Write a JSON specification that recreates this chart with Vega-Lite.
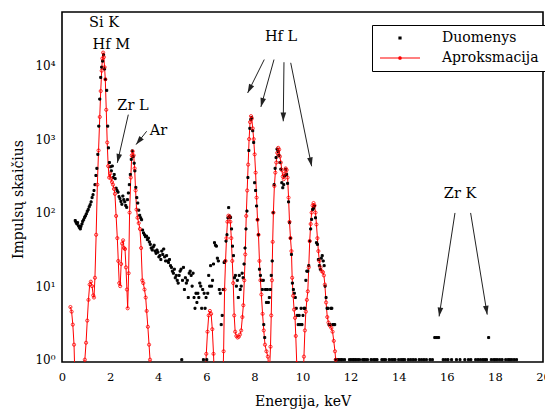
{
"$schema":"https://vega.github.io/schema/vega-lite/v6.json",
"width":481,"height":350,
"autosize":{"type":"none"},
"padding":{"left":62,"top":12,"right":2,"bottom":52},
"background":"white",
"config":{
 "view":{"stroke":"black","strokeWidth":1.6},
 "font":"DejaVu Serif",
 "axis":{"labelFont":"DejaVu Serif","titleFont":"DejaVu Serif","labelColor":"black","titleColor":"black","tickColor":"black","tickWidth":1,"domain":false,"grid":false,"titleFontWeight":"normal","labelOverlap":false,"labelFlush":false,"tickSize":0},
 "legend":{"labelFont":"DejaVu Serif"}
},
"datasets":{
"meas":[
{"e":0.55,"n":78},{"e":0.58,"n":74},{"e":0.62,"n":70},{"e":0.65,"n":73},{"e":0.69,"n":66},{"e":0.72,"n":63},{"e":0.76,"n":60},{"e":0.79,"n":65},{"e":0.83,"n":70},{"e":0.86,"n":76},{"e":0.90,"n":80},{"e":0.94,"n":86},{"e":0.97,"n":90},{"e":1.01,"n":96},{"e":1.05,"n":104},{"e":1.09,"n":110},{"e":1.13,"n":120},{"e":1.17,"n":128},{"e":1.21,"n":140},{"e":1.25,"n":160},{"e":1.29,"n":175},{"e":1.33,"n":200},{"e":1.37,"n":240},{"e":1.41,"n":320},{"e":1.45,"n":400},{"e":1.49,"n":620},{"e":1.53,"n":1500},{"e":1.57,"n":3500},{"e":1.61,"n":6900},{"e":1.65,"n":9500},{"e":1.69,"n":11500},{"e":1.73,"n":14000},{"e":1.77,"n":9000},{"e":1.81,"n":6500},{"e":1.86,"n":4600},{"e":1.90,"n":1500},{"e":1.93,"n":760},{"e":1.97,"n":480},{"e":2.01,"n":420},{"e":2.05,"n":370},{"e":2.09,"n":430},{"e":2.13,"n":300},{"e":2.17,"n":330},{"e":2.21,"n":290},{"e":2.25,"n":215},{"e":2.29,"n":200},{"e":2.33,"n":190},{"e":2.37,"n":165},{"e":2.41,"n":155},{"e":2.45,"n":142},{"e":2.49,"n":130},{"e":2.53,"n":168},{"e":2.57,"n":150},{"e":2.61,"n":140},{"e":2.65,"n":125},{"e":2.69,"n":118},{"e":2.72,"n":150},{"e":2.76,"n":185},{"e":2.80,"n":240},{"e":2.84,"n":330},{"e":2.88,"n":530},{"e":2.92,"n":690},{"e":2.96,"n":580},{"e":3.00,"n":470},{"e":3.03,"n":370},{"e":3.07,"n":220},{"e":3.11,"n":160},{"e":3.15,"n":135},{"e":3.19,"n":108},{"e":3.23,"n":92},{"e":3.27,"n":85},{"e":3.31,"n":80},{"e":3.35,"n":58},{"e":3.39,"n":53},{"e":3.43,"n":50},{"e":3.47,"n":47},{"e":3.51,"n":48},{"e":3.55,"n":43},{"e":3.59,"n":45},{"e":3.63,"n":40},{"e":3.67,"n":37},{"e":3.71,"n":33},{"e":3.75,"n":31},{"e":3.79,"n":34},{"e":3.83,"n":36},{"e":3.87,"n":30},{"e":3.91,"n":28},{"e":3.95,"n":31},{"e":3.99,"n":29},{"e":4.03,"n":25},{"e":4.07,"n":26},{"e":4.11,"n":23},{"e":4.15,"n":30},{"e":4.19,"n":27},{"e":4.23,"n":32},{"e":4.27,"n":25},{"e":4.31,"n":22},{"e":4.35,"n":26},{"e":4.39,"n":22},{"e":4.43,"n":21},{"e":4.47,"n":23},{"e":4.51,"n":19},{"e":4.55,"n":18},{"e":4.59,"n":16},{"e":4.63,"n":15},{"e":4.67,"n":17},{"e":4.71,"n":13},{"e":4.75,"n":14},{"e":4.79,"n":12},{"e":4.83,"n":11},{"e":4.87,"n":14},{"e":4.91,"n":16},{"e":4.95,"n":17},{"e":4.98,"n":1},{"e":5.01,"n":12},{"e":5.05,"n":18},{"e":5.09,"n":9},{"e":5.13,"n":13},{"e":5.17,"n":11},{"e":5.21,"n":12},{"e":5.25,"n":7},{"e":5.29,"n":15},{"e":5.33,"n":16},{"e":5.37,"n":14},{"e":5.41,"n":10},{"e":5.45,"n":15},{"e":5.49,"n":7},{"e":5.53,"n":5},{"e":5.57,"n":8},{"e":5.61,"n":6},{"e":5.65,"n":8},{"e":5.69,"n":7},{"e":5.73,"n":11},{"e":5.77,"n":10},{"e":5.81,"n":5},{"e":5.85,"n":9},{"e":5.88,"n":1},{"e":5.91,"n":8},{"e":5.95,"n":5},{"e":5.99,"n":7},{"e":6.02,"n":1},{"e":6.06,"n":8},{"e":6.10,"n":14},{"e":6.14,"n":10},{"e":6.18,"n":19},{"e":6.22,"n":10},{"e":6.26,"n":12},{"e":6.30,"n":20},{"e":6.34,"n":39},{"e":6.38,"n":36},{"e":6.42,"n":35},{"e":6.46,"n":24},{"e":6.50,"n":22},{"e":6.54,"n":9},{"e":6.58,"n":8},{"e":6.62,"n":3},{"e":6.66,"n":4},{"e":6.70,"n":9},{"e":6.74,"n":21},{"e":6.78,"n":22},{"e":6.82,"n":41},{"e":6.86,"n":50},{"e":6.90,"n":85},{"e":6.93,"n":117},{"e":6.97,"n":90},{"e":7.01,"n":86},{"e":7.05,"n":60},{"e":7.09,"n":35},{"e":7.13,"n":26},{"e":7.17,"n":13},{"e":7.21,"n":14},{"e":7.25,"n":10},{"e":7.29,"n":12},{"e":7.33,"n":7},{"e":7.37,"n":14},{"e":7.41,"n":9},{"e":7.45,"n":10},{"e":7.49,"n":15},{"e":7.53,"n":13},{"e":7.57,"n":20},{"e":7.61,"n":33},{"e":7.65,"n":60},{"e":7.69,"n":105},{"e":7.73,"n":300},{"e":7.77,"n":700},{"e":7.81,"n":1400},{"e":7.85,"n":1850},{"e":7.89,"n":1950},{"e":7.93,"n":1300},{"e":7.97,"n":900},{"e":8.01,"n":255},{"e":8.05,"n":200},{"e":8.09,"n":123},{"e":8.13,"n":80},{"e":8.17,"n":50},{"e":8.21,"n":17},{"e":8.25,"n":14},{"e":8.29,"n":12},{"e":8.33,"n":9},{"e":8.37,"n":12},{"e":8.39,"n":3},{"e":8.43,"n":2},{"e":8.46,"n":9},{"e":8.50,"n":6},{"e":8.54,"n":9},{"e":8.58,"n":6},{"e":8.62,"n":7},{"e":8.66,"n":9},{"e":8.70,"n":14},{"e":8.74,"n":22},{"e":8.78,"n":100},{"e":8.82,"n":240},{"e":8.86,"n":400},{"e":8.90,"n":560},{"e":8.94,"n":730},{"e":8.98,"n":680},{"e":9.02,"n":600},{"e":9.06,"n":480},{"e":9.10,"n":390},{"e":9.14,"n":255},{"e":9.18,"n":218},{"e":9.22,"n":240},{"e":9.26,"n":315},{"e":9.30,"n":390},{"e":9.34,"n":330},{"e":9.38,"n":250},{"e":9.42,"n":140},{"e":9.46,"n":73},{"e":9.50,"n":45},{"e":9.54,"n":27},{"e":9.58,"n":11},{"e":9.62,"n":9},{"e":9.66,"n":8},{"e":9.70,"n":7},{"e":9.74,"n":5},{"e":9.78,"n":4},{"e":9.82,"n":3},{"e":9.86,"n":4},{"e":9.90,"n":3},{"e":9.94,"n":5},{"e":9.98,"n":3},{"e":10.02,"n":4},{"e":10.06,"n":5},{"e":10.10,"n":5},{"e":10.14,"n":12},{"e":10.18,"n":16},{"e":10.22,"n":16},{"e":10.26,"n":19},{"e":10.30,"n":41},{"e":10.34,"n":60},{"e":10.38,"n":81},{"e":10.42,"n":110},{"e":10.46,"n":115},{"e":10.50,"n":123},{"e":10.54,"n":85},{"e":10.58,"n":39},{"e":10.62,"n":37},{"e":10.66,"n":23},{"e":10.70,"n":19},{"e":10.74,"n":17},{"e":10.78,"n":24},{"e":10.82,"n":26},{"e":10.86,"n":22},{"e":10.90,"n":19},{"e":10.94,"n":10},{"e":10.98,"n":7},{"e":11.02,"n":5},{"e":11.06,"n":5},{"e":11.10,"n":3},{"e":11.14,"n":3},{"e":11.18,"n":5},{"e":11.22,"n":5},{"e":11.26,"n":3},{"e":11.30,"n":3},{"e":11.34,"n":3},
{"e":11.38,"n":1},{"e":11.45,"n":1},{"e":11.52,"n":1},{"e":11.60,"n":1},{"e":11.66,"n":1},{"e":11.75,"n":1},{"e":11.95,"n":1},{"e":12.02,"n":1},{"e":12.10,"n":1},{"e":12.16,"n":1},{"e":12.22,"n":1},{"e":12.30,"n":1},{"e":12.37,"n":1},{"e":12.50,"n":1},{"e":12.56,"n":1},{"e":12.62,"n":1},{"e":12.70,"n":1},{"e":12.85,"n":1},{"e":12.95,"n":1},{"e":13.02,"n":1},{"e":13.10,"n":1},{"e":13.30,"n":1},{"e":13.38,"n":1},{"e":13.45,"n":1},{"e":13.60,"n":1},{"e":13.70,"n":1},{"e":13.78,"n":1},{"e":13.85,"n":1},{"e":14.00,"n":1},{"e":14.10,"n":1},{"e":14.18,"n":1},{"e":14.25,"n":1},{"e":14.40,"n":1},{"e":14.50,"n":1},{"e":14.60,"n":1},{"e":14.70,"n":1},{"e":14.85,"n":1},{"e":14.95,"n":1},{"e":15.05,"n":1},{"e":15.15,"n":1},{"e":15.30,"n":1},{"e":15.40,"n":1},{"e":15.50,"n":2},{"e":15.58,"n":2},{"e":15.66,"n":2},{"e":15.85,"n":1},{"e":15.95,"n":1},{"e":16.05,"n":1},{"e":16.20,"n":1},{"e":16.40,"n":1},{"e":16.55,"n":1},{"e":16.75,"n":1},{"e":16.90,"n":1},{"e":17.00,"n":1},{"e":17.20,"n":1},{"e":17.30,"n":1},{"e":17.40,"n":1},{"e":17.50,"n":1},{"e":17.58,"n":1},{"e":17.65,"n":1},{"e":17.74,"n":2},{"e":17.85,"n":1},{"e":17.95,"n":1},{"e":18.02,"n":1},{"e":18.10,"n":1},{"e":18.20,"n":1},{"e":18.30,"n":1},{"e":18.45,"n":1},{"e":18.55,"n":1},{"e":18.62,"n":1},{"e":18.70,"n":1},{"e":18.80,"n":1},{"e":18.90,"n":1}
],
"fit":[
{"e":0.35,"v":5.2},{"e":0.40,"v":4.5},{"e":0.45,"v":3.0},{"e":0.50,"v":1.6},{"e":0.55,"v":0.4},{"e":0.90,"v":0.5},{"e":0.95,"v":1.0},{"e":1.00,"v":1.7},{"e":1.05,"v":3.4},{"e":1.10,"v":6.5},{"e":1.15,"v":10.5},{"e":1.20,"v":11.5},{"e":1.25,"v":10},{"e":1.30,"v":7.5},{"e":1.33,"v":7},{"e":1.37,"v":13},{"e":1.42,"v":50},{"e":1.47,"v":240},{"e":1.52,"v":700},{"e":1.57,"v":2000},{"e":1.61,"v":4500},{"e":1.65,"v":8500},{"e":1.68,"v":12500},{"e":1.71,"v":15000},{"e":1.74,"v":13000},{"e":1.77,"v":9500},{"e":1.80,"v":6500},{"e":1.84,"v":2500},{"e":1.88,"v":900},{"e":1.92,"v":430},{"e":1.96,"v":300},{"e":2.00,"v":340},{"e":2.04,"v":290},{"e":2.08,"v":260},{"e":2.12,"v":240},{"e":2.16,"v":210},{"e":2.20,"v":180},{"e":2.25,"v":90},{"e":2.30,"v":45},{"e":2.34,"v":22},{"e":2.38,"v":11},{"e":2.42,"v":10},{"e":2.46,"v":20},{"e":2.50,"v":38},{"e":2.54,"v":42},{"e":2.58,"v":33},{"e":2.62,"v":32},{"e":2.66,"v":18},{"e":2.70,"v":9},{"e":2.73,"v":5},{"e":2.77,"v":15},{"e":2.81,"v":100},{"e":2.86,"v":300},{"e":2.90,"v":600},{"e":2.94,"v":680},{"e":2.98,"v":600},{"e":3.02,"v":400},{"e":3.06,"v":200},{"e":3.10,"v":110},{"e":3.14,"v":85},{"e":3.19,"v":72},{"e":3.24,"v":60},{"e":3.29,"v":33},{"e":3.34,"v":12},{"e":3.38,"v":11},{"e":3.43,"v":9},{"e":3.48,"v":7},{"e":3.52,"v":4.6},{"e":3.57,"v":2.8},{"e":3.62,"v":1.6},{"e":3.66,"v":1.0},{"e":3.70,"v":0.4},
{"e":5.95,"v":0.5},{"e":6.00,"v":1.2},{"e":6.05,"v":2.4},{"e":6.10,"v":4.0},{"e":6.15,"v":4.6},{"e":6.20,"v":4.2},{"e":6.25,"v":2.6},{"e":6.30,"v":1.2},{"e":6.35,"v":0.4},
{"e":6.68,"v":0.4},{"e":6.72,"v":1.3},{"e":6.76,"v":9},{"e":6.80,"v":22},{"e":6.84,"v":45},{"e":6.88,"v":75},{"e":6.92,"v":91},{"e":6.96,"v":88},{"e":7.00,"v":75},{"e":7.04,"v":45},{"e":7.08,"v":22},{"e":7.12,"v":11},{"e":7.16,"v":4},{"e":7.20,"v":2.4},{"e":7.25,"v":2.1},{"e":7.30,"v":2.0},{"e":7.35,"v":2.05},{"e":7.40,"v":2.2},{"e":7.45,"v":2.5},{"e":7.50,"v":3.8},{"e":7.54,"v":5.5},{"e":7.58,"v":12},{"e":7.62,"v":27},{"e":7.66,"v":90},{"e":7.70,"v":200},{"e":7.74,"v":450},{"e":7.78,"v":1000},{"e":7.82,"v":1700},{"e":7.86,"v":2050},{"e":7.89,"v":1900},{"e":7.93,"v":1400},{"e":7.97,"v":1000},{"e":8.01,"v":620},{"e":8.05,"v":350},{"e":8.09,"v":160},{"e":8.13,"v":80},{"e":8.17,"v":50},{"e":8.21,"v":22},{"e":8.25,"v":12},{"e":8.29,"v":7.7},{"e":8.34,"v":4.2},{"e":8.39,"v":2.5},{"e":8.44,"v":1.6},{"e":8.50,"v":1.3},{"e":8.56,"v":1.1},{"e":8.62,"v":0.6},{"e":8.67,"v":1.5},{"e":8.70,"v":4},{"e":8.73,"v":12},{"e":8.76,"v":40},{"e":8.79,"v":100},{"e":8.83,"v":230},{"e":8.87,"v":350},{"e":8.91,"v":480},{"e":8.95,"v":650},{"e":8.99,"v":760},{"e":9.03,"v":720},{"e":9.06,"v":580},{"e":9.10,"v":480},{"e":9.14,"v":380},{"e":9.18,"v":310},{"e":9.22,"v":285},{"e":9.26,"v":340},{"e":9.30,"v":400},{"e":9.34,"v":380},{"e":9.38,"v":300},{"e":9.42,"v":160},{"e":9.46,"v":75},{"e":9.50,"v":45},{"e":9.54,"v":30},{"e":9.57,"v":13},{"e":9.61,"v":7.4},{"e":9.65,"v":4.8},{"e":9.69,"v":3.7},{"e":9.72,"v":2.1},{"e":9.76,"v":0.9},{"e":9.80,"v":0.4},
{"e":10.02,"v":0.4},{"e":10.06,"v":1.1},{"e":10.10,"v":2.5},{"e":10.14,"v":4.5},{"e":10.18,"v":6.5},{"e":10.22,"v":8.5},{"e":10.26,"v":18},{"e":10.30,"v":41},{"e":10.34,"v":70},{"e":10.38,"v":100},{"e":10.42,"v":125},{"e":10.46,"v":135},{"e":10.50,"v":125},{"e":10.54,"v":100},{"e":10.58,"v":69},{"e":10.62,"v":45},{"e":10.66,"v":30},{"e":10.70,"v":22},{"e":10.75,"v":18},{"e":10.80,"v":16},{"e":10.85,"v":15.5},{"e":10.89,"v":14},{"e":10.93,"v":10.5},{"e":10.98,"v":6},{"e":11.03,"v":3.8},{"e":11.08,"v":3.2},{"e":11.14,"v":2.9},{"e":11.20,"v":2.7},{"e":11.25,"v":2.4},{"e":11.30,"v":1.8},{"e":11.35,"v":1.3},{"e":11.38,"v":1.0},{"e":11.42,"v":0.4}
],
"notes":[
{"t":"Si K","e":1.75,"v":38000},{"t":"Hf M","e":2.05,"v":19300},{"t":"Zr L","e":2.95,"v":2860},{"t":"Ar","e":4.01,"v":1306},{"t":"Hf L","e":9.11,"v":24800},{"t":"Zr K","e":16.55,"v":181}
],
"arrows":[
{"e1":2.757,"v1":2150,"e2":2.30,"v2":475},
{"e1":3.52,"v1":1277,"e2":3.08,"v2":841},
{"e1":8.41,"v1":12070,"e2":7.72,"v2":4250},
{"e1":8.815,"v1":12070,"e2":8.27,"v2":2740},
{"e1":9.23,"v1":11100,"e2":9.20,"v2":1746},
{"e1":9.51,"v1":10900,"e2":10.38,"v2":427},
{"e1":16.34,"v1":99,"e2":15.68,"v2":3.88},
{"e1":16.99,"v1":99,"e2":17.68,"v2":4.1}
]
},
"layer":[
{"data":{"name":"fit"},
 "mark":{"type":"line","strokeWidth":1,"clip":true},
 "encoding":{
  "x":{"field":"e","type":"quantitative","scale":{"domain":[0,20],"nice":false,"zero":false},
   "axis":{"orient":"top","labels":false,"title":null,
    "values":[0,1,2,3,4,5,6,7,8,9,10,11,12,13,14,15,16,17,18,19,20],
    "encode":{"ticks":{"update":{"y2":{"signal":"datum.value % 2 == 0 ? 8 : 4"}}}}}},
  "y":{"field":"v","type":"quantitative","scale":{"type":"log","domain":[0.93,53500],"nice":false},
   "axis":{"orient":"right","labels":false,"title":null,
    "values":[1,2,3,4,5,6,7,8,9,10,20,30,40,50,60,70,80,90,100,200,300,400,500,600,700,800,900,1000,2000,3000,4000,5000,6000,7000,8000,9000,10000,20000,30000,40000,50000],
    "encode":{"ticks":{"update":{"x2":{"signal":"abs(log(datum.value)/LN10 - round(log(datum.value)/LN10)) < 0.001 ? -8 : -4"}}}}}},
  "color":{"datum":"Aproksmacija","type":"nominal","scale":{"domain":["Duomenys","Aproksmacija"],"range":["black","red"]},
   "legend":{"orient":"none","legendX":310,"legendY":13,"title":null,"strokeColor":"black","fillColor":"white","padding":6,
    "labelFontSize":14,"labelFont":"DejaVu Serif","labelColor":"black","labelOffset":35,"rowPadding":6,"symbolStrokeWidth":1.2,"symbolOffset":15}}
 }},
{"data":{"name":"meas"},
 "mark":{"type":"point","filled":true,"stroke":"black","strokeWidth":1,"opacity":1},
 "encoding":{
  "x":{"field":"e","type":"quantitative","scale":{"domain":[0,20],"nice":false,"zero":false},
   "axis":{"orient":"bottom","title":"Energija, keV","titleFontSize":14,"titlePadding":12,"labelFontSize":11.5,"labelPadding":9,
    "values":[0,1,2,3,4,5,6,7,8,9,10,11,12,13,14,15,16,17,18,19,20],
    "labelExpr":"datum.value % 2 == 0 ? datum.label : ''",
    "encode":{"ticks":{"update":{"y2":{"signal":"datum.value % 2 == 0 ? -8 : -4"}}}}}},
  "y":{"field":"n","type":"quantitative","scale":{"type":"log","domain":[0.93,53500],"nice":false},
   "axis":{"orient":"left","title":"Impulsų skaičius","titleFontSize":14,"titlePadding":9,"titleY":187,"labelFontSize":12,"labelPadding":7,
    "values":[1,2,3,4,5,6,7,8,9,10,20,30,40,50,60,70,80,90,100,200,300,400,500,600,700,800,900,1000,2000,3000,4000,5000,6000,7000,8000,9000,10000,20000,30000,40000,50000],
    "labelExpr":"abs(log(datum.value)/LN10 - round(log(datum.value)/LN10)) < 0.001 ? '10' + ['⁰','¹','²','³','⁴'][round(log(datum.value)/LN10)] : ''",
    "encode":{"ticks":{"update":{"x2":{"signal":"abs(log(datum.value)/LN10 - round(log(datum.value)/LN10)) < 0.001 ? 8 : 4"}}}}}},
  "color":{"datum":"Duomenys","type":"nominal","scale":{"domain":["Duomenys","Aproksmacija"],"range":["black","red"]}},
  "shape":{"datum":"Duomenys","type":"nominal","scale":{"domain":["Duomenys","Aproksmacija"],"range":["square","M-4,0H4M0.25,0A0.25,0.25 0 1 1 -0.25,0A0.25,0.25 0 1 1 0.25,0"]}},
  "size":{"datum":"Duomenys","type":"nominal","scale":{"domain":["Duomenys","Aproksmacija"],"range":[4,100]}}
 }},
{"data":{"name":"fit"},
 "mark":{"type":"point","filled":false,"size":10,"strokeWidth":0.8,"color":"red","opacity":1,"clip":true},
 "encoding":{
  "x":{"field":"e","type":"quantitative","scale":{"domain":[0,20],"nice":false,"zero":false},"axis":null},
  "y":{"field":"v","type":"quantitative","scale":{"type":"log","domain":[0.93,53500],"nice":false},"axis":null}
 }},
{"data":{"name":"arrows"},
 "mark":{"type":"rule","color":"#222222","strokeWidth":1},
 "encoding":{
  "x":{"field":"e1","type":"quantitative","scale":{"domain":[0,20],"nice":false,"zero":false},"axis":null},
  "y":{"field":"v1","type":"quantitative","scale":{"type":"log","domain":[0.93,53500],"nice":false},"axis":null},
  "x2":{"field":"e2"},
  "y2":{"field":"v2"}
 }},
{"data":{"name":"arrows"},
 "mark":{"type":"point","shape":"M0,0L-0.35,1.1L0.35,1.1Z","filled":true,"size":260,"color":"#222222","opacity":1,
   "angle":{"expr":"atan2(scale('x', datum.e2) - scale('x', datum.e1), scale('y', datum.v1) - scale('y', datum.v2)) * 180 / PI"}},
 "encoding":{
  "x":{"field":"e2","type":"quantitative","scale":{"domain":[0,20],"nice":false,"zero":false},"axis":null},
  "y":{"field":"v2","type":"quantitative","scale":{"type":"log","domain":[0.93,53500],"nice":false},"axis":null}
 }},
{"data":{"name":"notes"},
 "mark":{"type":"text","fontSize":14.5,"font":"DejaVu Serif","color":"black"},
 "encoding":{
  "x":{"field":"e","type":"quantitative","scale":{"domain":[0,20],"nice":false,"zero":false},"axis":null},
  "y":{"field":"v","type":"quantitative","scale":{"type":"log","domain":[0.93,53500],"nice":false},"axis":null},
  "text":{"field":"t"}
 }}
],
"resolve":{"axis":{"x":"independent","y":"independent"}}
}
